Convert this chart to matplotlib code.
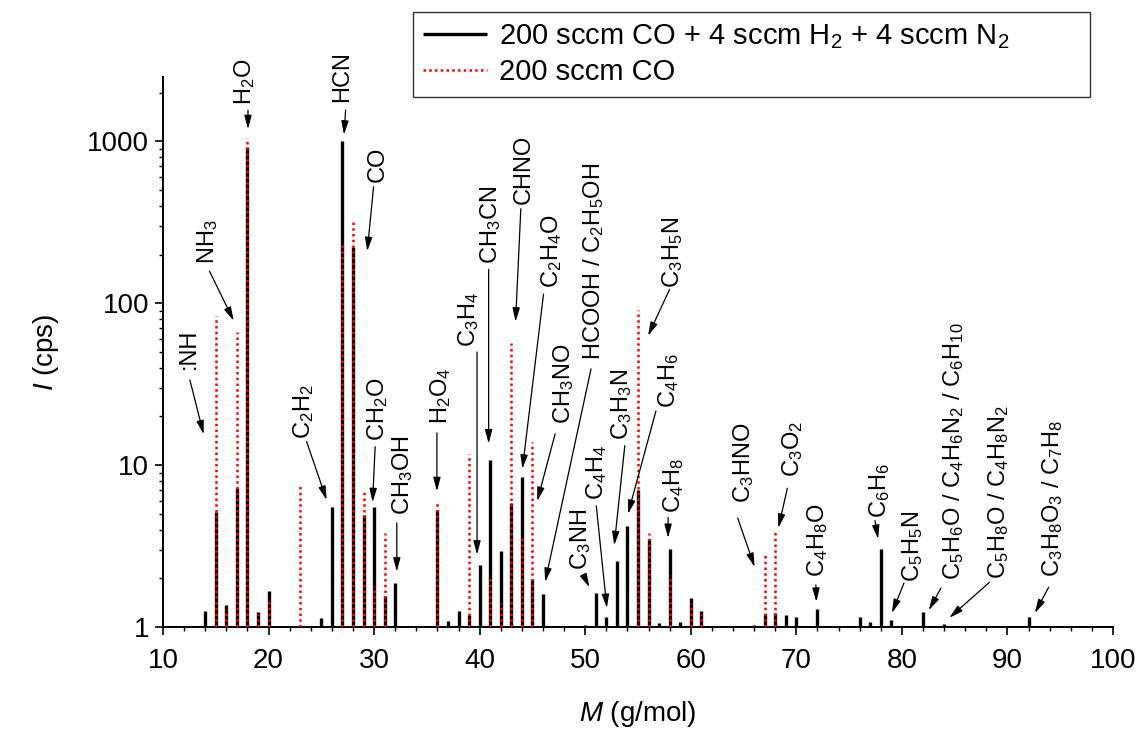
import matplotlib
matplotlib.use('Agg')
import matplotlib.pyplot as plt
from matplotlib.ticker import FixedLocator, FixedFormatter, LogLocator, MultipleLocator, NullFormatter

plt.rcParams['font.family'] = ['Liberation Sans', 'DejaVu Sans']
plt.rcParams['mathtext.fontset'] = 'custom'
plt.rcParams['mathtext.rm'] = 'Liberation Sans'
plt.rcParams['mathtext.it'] = 'Liberation Sans:italic'
plt.rcParams['mathtext.bf'] = 'Liberation Sans:bold'

# ---------------- data ----------------
mass_mix = [14, 15, 16, 17, 18, 19, 20, 25, 26, 27, 28, 29, 30, 31, 32,
            36, 37, 38, 39, 40, 41, 42, 43, 44, 45, 46,
            50, 51, 52, 53, 54, 55, 56, 57, 58, 59, 60, 61,
            66, 67, 68, 69, 70, 72, 76, 77, 78, 79, 81, 82, 84, 92]
int_mix = [1.25, 5.1, 1.36, 7.2, 925, 1.23, 1.66, 1.13, 5.5, 1000, 223, 4.9, 5.5, 1.56, 1.87,
           5.3, 1.09, 1.25, 1.18, 2.4, 10.8, 2.95, 5.8, 8.5, 1.97, 1.6,
           1.03, 1.62, 1.15, 2.55, 4.2, 7.0, 3.5, 1.06, 3.05, 1.07, 1.52, 1.25,
           1.03, 1.21, 1.22, 1.19, 1.15, 1.29, 1.15, 1.08, 3.05, 1.1, 1.02, 1.23, 1.05, 1.16]

mass_co = [15, 16, 17, 18, 19, 20, 23, 27, 28, 29, 30, 31,
           36, 39, 41, 42, 43, 44, 45, 55, 56, 58, 60, 61, 67, 68]
int_co = [84, 1.3, 66, 1050, 1.2, 1.5, 7.6, 236, 328, 6.8, 1.8, 3.8,
          5.9, 11.8, 2.1, 1.4, 57, 3.7, 13.8, 91, 3.8, 2.1, 1.4, 1.2, 2.87, 3.87]

series_labels = ['200 sccm CO + 4 sccm H$_2$ + 4 sccm N$_2$', '200 sccm CO']
x_ticks = [10, 20, 30, 40, 50, 60, 70, 80, 90, 100]
y_ticks = [1, 10, 100, 1000]
y_tick_labels = ['1', '10', '100', '1000']

# peak labels: (text, text x, text bottom, arrow tail x, tail y, arrow tip x, tip y)
peak_labels = [
    (':NH', 12.45, 39, 12.55, 33.5, 13.85, 15.5),
    ('NH$_3$', 14.25, 176, 14.4, 158, 16.7, 78),
    ('H$_2$O', 17.75, 1680, 18.05, 1560, 18.05, 1190),
    ('C$_2$H$_2$', 23.3, 14.6, 23.6, 14.0, 25.5, 6.1),
    ('HCN', 27.0, 1750, 27.3, 1560, 27.15, 1100),
    ('CO', 30.3, 565, 29.95, 525, 29.35, 210),
    ('CH$_2$O', 30.3, 14.0, 30.1, 13.0, 29.85, 5.9),
    ('CH$_3$OH', 32.7, 4.9, 32.15, 4.4, 32.15, 2.2),
    ('H$_2$O$_4$', 36.3, 18.0, 35.95, 15.8, 35.95, 6.9),
    ('C$_3$H$_4$', 38.9, 54, 39.75, 50, 39.75, 2.8),
    ('CH$_3$CN', 41.0, 176, 40.85, 162, 40.85, 13.6),
    ('CHNO', 44.2, 412, 43.9, 384, 43.4, 77),
    ('C$_2$H$_4$O', 46.8, 124, 46.05, 114, 44.05, 9.5),
    ('HCOOH / C$_2$H$_5$OH', 50.75, 44.6, 50.55, 39.3, 46.2, 1.9),
    ('CH$_3$NO', 47.9, 18.0, 47.15, 15.6, 45.45, 6.0),
    ('C$_3$NH', 49.6, 2.25, 49.9, 2.05, 50.4, 1.76),
    ('C$_4$H$_4$', 51.1, 6.05, 51.05, 5.6, 52.05, 1.31),
    ('C$_3$H$_3$N', 53.4, 14.2, 53.75, 13.2, 52.75, 3.2),
    ('C$_4$H$_6$', 57.9, 22.6, 56.7, 21.6, 54.05, 5.0),
    ('C$_3$H$_5$N', 58.3, 124, 58.0, 122, 55.95, 63),
    ('C$_4$H$_8$', 58.4, 5.05, 57.85, 4.75, 57.85, 3.55),
    ('C$_3$HNO', 65.0, 5.8, 64.45, 4.7, 66.05, 2.35),
    ('C$_3$O$_2$', 69.6, 8.4, 69.15, 7.2, 68.3, 4.1),
    ('C$_4$H$_8$O', 72.0, 2.03, 71.85, 1.82, 71.9, 1.43),
    ('C$_6$H$_6$', 77.9, 4.7, 77.45, 4.55, 77.75, 3.5),
    ('C$_5$H$_5$N', 81.0, 1.9, 80.2, 1.87, 79.05, 1.22),
    ('C$_5$H$_6$O / C$_4$H$_6$N$_2$ / C$_6$H$_{10}$', 84.9, 1.95, 83.7, 1.74, 82.55, 1.27),
    ('C$_5$H$_8$O / C$_4$H$_8$N$_2$', 89.2, 1.97, 88.3, 1.89, 84.5, 1.14),
    ('C$_3$H$_8$O$_3$ / C$_7$H$_8$', 94.3, 2.03, 93.9, 1.76, 92.6, 1.22),
]

# ---------------- figure ----------------
W, H = 1141, 729
fig = plt.figure(figsize=(W / 100, H / 100), dpi=100)
ax = fig.add_axes([163 / W, 1 - 627 / H, (1113 - 163) / W, (627 - 77) / H])

ax.vlines(mass_mix, 1, int_mix, colors='black', lw=2.4, label=series_labels[0], zorder=2)
ax.vlines(mass_co, 1, int_co, colors='red', lw=1.8, linestyles=(0, (1.0, 1.3)),
          label=series_labels[1], zorder=3)

ax.set_yscale('log')
ax.set_xlim(10, 100)
ax.set_ylim(1, 2500)

ax.xaxis.set_major_locator(FixedLocator(x_ticks))
ax.xaxis.set_minor_locator(MultipleLocator(2))
ax.yaxis.set_major_locator(FixedLocator(y_ticks))
ax.yaxis.set_major_formatter(FixedFormatter(y_tick_labels))
ax.yaxis.set_minor_locator(LogLocator(base=10, subs=range(2, 10)))
ax.yaxis.set_minor_formatter(NullFormatter())

for s in ['top', 'right']:
    ax.spines[s].set_visible(False)
for s in ['left', 'bottom']:
    ax.spines[s].set_linewidth(1.4)

ax.tick_params(axis='both', which='major', direction='out', length=6, width=1.2,
               labelsize=20)
ax.tick_params(axis='both', which='minor', direction='out', length=3.2, width=1.0)
ax.tick_params(axis='x', which='major', pad=9)
ax.tick_params(axis='y', which='major', pad=4)

ax.set_xlabel('$\\mathit{M}$ (g/mol)', fontsize=20, labelpad=18)
ax.set_ylabel('$\\mathit{I}$ (cps)', fontsize=20, labelpad=19)

for text, tx, ty, ax0, ay0, ax1, ay1 in peak_labels:
    ax.text(tx, ty, text, rotation=90, ha='center', va='bottom', fontsize=17,
            clip_on=False, zorder=5)
    ax.annotate('', xy=(ax1, ay1), xytext=(ax0, ay0),
                arrowprops=dict(arrowstyle='-|>,head_length=0.75,head_width=0.2',
                                color='black', lw=0.9, mutation_scale=11,
                                shrinkA=0, shrinkB=0),
                annotation_clip=False, zorder=5)

leg = ax.legend(loc='upper left',
                bbox_to_anchor=(413 / W, 1 - 104 / H, (1090 - 413) / W, (104 - 12) / H),
                bbox_transform=fig.transFigure, mode='expand', borderaxespad=0,
                fontsize=21, frameon=True, fancybox=False, handlelength=2.2,
                handletextpad=0.4, labelspacing=0.25, borderpad=0.35)
leg.get_frame().set_edgecolor('black')
leg.get_frame().set_linewidth(1.0)

fig.savefig('out.png', dpi=100)
